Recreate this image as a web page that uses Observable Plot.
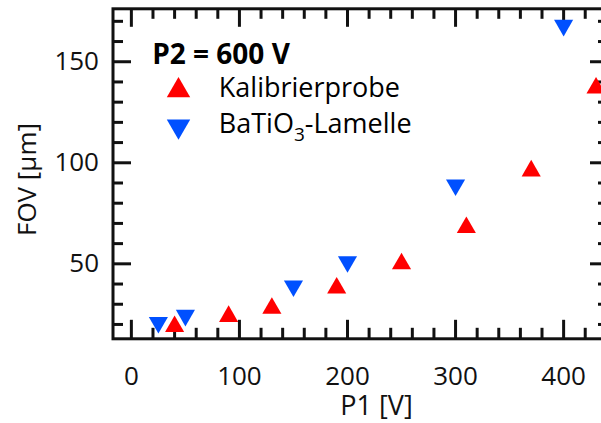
<!DOCTYPE html>
<html>
<head>
<meta charset="utf-8">
<script src="https://cdn.jsdelivr.net/npm/d3@7"></script>
<script src="https://cdn.jsdelivr.net/npm/@observablehq/plot@0.6"></script>
<style>
  html, body { margin: 0; padding: 0; background: #fff; overflow: hidden; width: 601px; height: 423px; }
  #chart { width: 601px; height: 423px; overflow: hidden; }
  #chart svg { display: block; max-width: none !important; font-family: "Open Sans", sans-serif; }
</style>
</head>
<body>
<div id="chart"></div>
<script>
// Data
const kalibX = [40, 90, 130, 190, 250, 310, 370, 430];
const kalibY = [19, 24, 28, 38, 50, 68, 96, 137];
const batioX = [25, 50, 150, 200, 300, 400];
const batioY = [21, 24.5, 39, 51, 89, 168];

const xMajor = [0, 100, 200, 300, 400];
const xMinor = [20, 40, 60, 80, 120, 140, 160, 180, 220, 240, 260, 280, 320, 340, 360, 380, 420, 440];
const yMajor = [50, 100, 150];
const yMinor = [20, 30, 40, 60, 70, 80, 90, 110, 120, 130, 140, 160, 170];

const xLabel = "P1 [V]";
const yLabel = "FOV [µm]";
const legendTitle = "P2 = 600 V";
const seriesNames = ["Kalibrierprobe", "BaTiO3-Lamelle"];
const seriesColors = ["#ff0000", "#0050ff"];

const kalib = kalibX.map((x, i) => ({x, y: kalibY[i]}));
const batio = batioX.map((x, i) => ({x, y: batioY[i]}));

// Layout
const W = 620, H = 423;
const mL = 112.5, mR = 11.5, mT = 8.3, mB = 84.7;
const iW = W - mL - mR, iH = H - mT - mB;
const majLen = 18.5, minLen = 10.5;
const ink = "#111";

const plot = Plot.plot({
  width: W,
  height: H,
  marginLeft: mL,
  marginRight: mR,
  marginTop: mT,
  marginBottom: mB,
  style: {fontFamily: "'Open Sans', sans-serif", background: "transparent", maxWidth: "none"},
  x: {domain: [-17, 442], axis: null},
  y: {domain: [12.9, 176.2], axis: null},
  marks: [
    // inward ticks: bottom, top
    Plot.tickX(xMajor, {x: d => d, insetTop: iH - majLen, stroke: ink, strokeWidth: 3}),
    Plot.tickX(xMinor, {x: d => d, insetTop: iH - minLen, stroke: ink, strokeWidth: 3}),
    Plot.tickX(xMajor, {x: d => d, insetBottom: iH - majLen, stroke: ink, strokeWidth: 3}),
    Plot.tickX(xMinor, {x: d => d, insetBottom: iH - minLen, stroke: ink, strokeWidth: 3}),
    // inward ticks: left, right
    Plot.tickY(yMajor, {y: d => d, insetRight: iW - majLen, stroke: ink, strokeWidth: 3}),
    Plot.tickY(yMinor, {y: d => d, insetRight: iW - minLen, stroke: ink, strokeWidth: 3}),
    Plot.tickY(yMajor, {y: d => d, insetLeft: iW - majLen, stroke: ink, strokeWidth: 3}),
    Plot.tickY(yMinor, {y: d => d, insetLeft: iW - minLen, stroke: ink, strokeWidth: 3}),
    Plot.frame({stroke: ink, strokeWidth: 3}),
    // tick labels
    Plot.axisX(xMajor, {anchor: "bottom", tickSize: 0, tickPadding: 28, fontSize: 26, label: null, fill: ink}),
    Plot.axisY(yMajor, {anchor: "left", tickSize: 0, tickPadding: 14, fontSize: 26, label: null, fill: ink}),
    // axis titles
    Plot.text([xLabel], {text: d => d, frameAnchor: "bottom", textAnchor: "middle", lineAnchor: "bottom", dx: 15.5, dy: 76.5, fontSize: 27, fill: ink}),
    Plot.text([yLabel], {text: d => d, frameAnchor: "left", textAnchor: "middle", lineAnchor: "bottom", rotate: -90, dx: -77.5, dy: 5.7, fontSize: 26, fill: ink}),
    // data
    Plot.dot(kalib, {x: "x", y: "y", symbol: "triangle", r: 7.1, fill: seriesColors[0], stroke: "none"}),
    Plot.dot(batio, {x: "x", y: "y", symbol: "triangle", rotate: 180, r: 7.1, fill: seriesColors[1], stroke: "none"}),
    // legend
    Plot.text([legendTitle], {text: d => d, frameAnchor: "top-left", textAnchor: "start", lineAnchor: "bottom", dx: 39.2, dy: 54.7, fontSize: 28, fontWeight: "bold", fill: "#000"}),
    Plot.dot([seriesNames[0]], {frameAnchor: "top-left", dx: 65.5, dy: 81.7, symbol: "triangle", r: 8.7, fill: seriesColors[0], stroke: "none"}),
    Plot.dot([seriesNames[1]], {frameAnchor: "top-left", dx: 65.5, dy: 117.5, symbol: "triangle", rotate: 180, r: 8.7, fill: seriesColors[1], stroke: "none"}),
    Plot.text([seriesNames[0]], {text: d => d, frameAnchor: "top-left", textAnchor: "start", lineAnchor: "bottom", dx: 105.8, dy: 88, fontSize: 27, fill: "#000"}),
    Plot.text([seriesNames[1]], {text: d => d, frameAnchor: "top-left", textAnchor: "start", lineAnchor: "bottom", dx: 105.8, dy: 124.5, fontSize: 27, fill: "#000"})
  ]
});

// Render the "3" in BaTiO3 as a subscript
d3.select(plot).selectAll("text").each(function() {
  const t = d3.select(this);
  if (t.text() === seriesNames[1]) {
    t.text(null);
    t.append("tspan").text("BaTiO");
    t.append("tspan").attr("font-size", 19).attr("dy", 8).text("3");
    t.append("tspan").attr("dy", -8).text("-Lamelle");
  }
});

document.getElementById("chart").appendChild(plot);
</script>
</body>
</html>
